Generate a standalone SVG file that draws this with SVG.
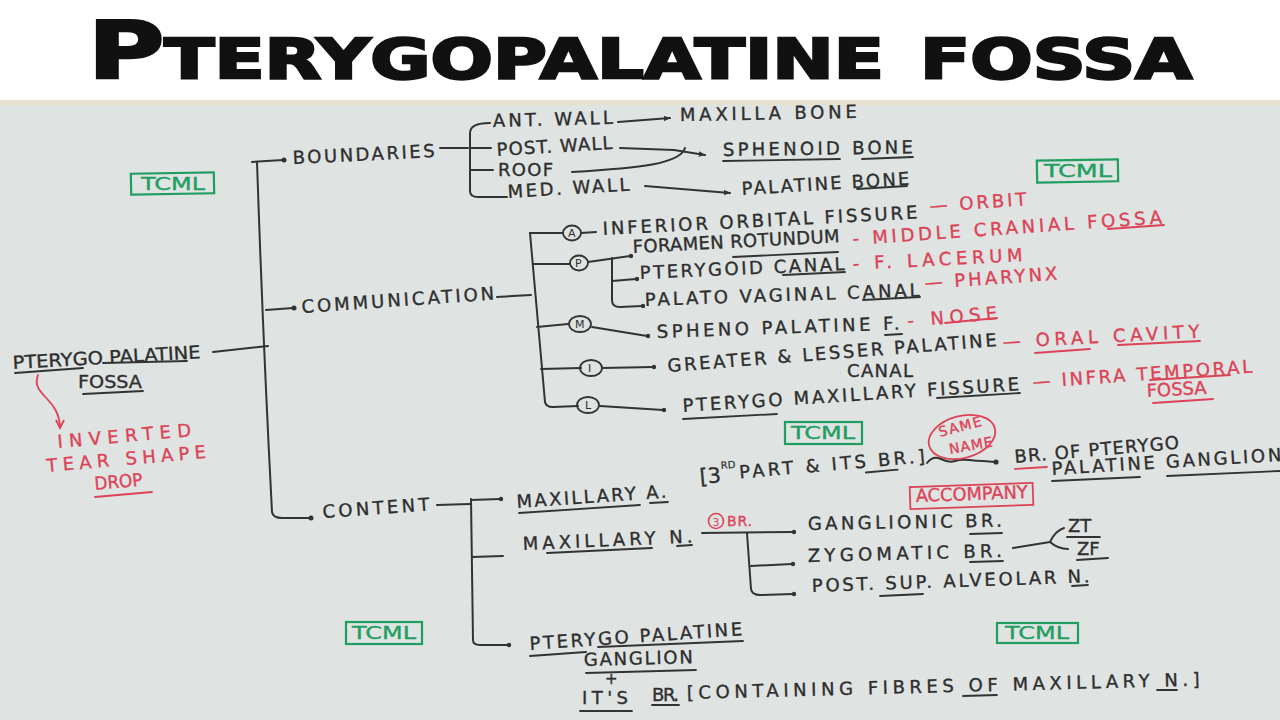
<svg xmlns="http://www.w3.org/2000/svg" width="1280" height="720" viewBox="0 0 1280 720">
<defs>
<style>
.t{font-family:"DejaVu Sans","Liberation Sans",sans-serif;font-size:18px;fill:#2e2e2e;stroke:#2e2e2e;stroke-width:0.35;}
.r{fill:#dc4356;stroke:#dc4356;}
.gt{fill:#1f9e62;stroke:#1f9e62;}
.ln{stroke:#333;stroke-width:2;fill:none;stroke-linecap:round;stroke-linejoin:round;}
.ul{stroke:#333;stroke-width:1.8;fill:none;stroke-linecap:round;}
.rl{stroke:#dc4356;stroke-width:1.8;fill:none;stroke-linecap:round;}
.gb{stroke:#1f9e62;stroke-width:2.2;fill:none;}
.dot{fill:#333;}
.circ{stroke:#333;stroke-width:1.8;fill:none;}
.ct{font-family:"DejaVu Sans",sans-serif;font-size:11px;fill:#2e2e2e;}
.title{font-family:"DejaVu Sans","Liberation Sans",sans-serif;font-weight:900;font-size:78px;font-variant:small-caps;fill:#111;stroke:#111;stroke-width:2.5;}
</style>
<marker id="ah" viewBox="0 0 10 10" refX="9" refY="5" markerWidth="7" markerHeight="7" orient="auto" markerUnits="userSpaceOnUse"><path d="M0,1 L10,5 L0,9 z" fill="#333"/></marker>
<marker id="ahr" viewBox="0 0 10 10" refX="9" refY="5" markerWidth="10" markerHeight="10" orient="auto" markerUnits="userSpaceOnUse"><path d="M1,1 L9,5 L1,9" fill="none" stroke="#dc4356" stroke-width="1.8"/></marker>
</defs>

<rect x="0" y="0" width="1280" height="720" fill="#ffffff"/>
<rect x="0" y="100" width="1280" height="620" fill="#dfe3e2"/>
<rect x="0" y="100" width="1280" height="5" fill="#e6e1cf"/>

<g id="title">
<text class="title" x="88" y="78" textLength="1104" lengthAdjust="spacingAndGlyphs">Pterygopalatine fossa</text>
</g>

<g id="connectors">
<path class="ln" d="M213,352 L268,346"/>
<path class="ln" d="M252,162 L283,160"/>
<path class="ln" d="M257,162 Q263,340 272,512 Q273,518 282,518 L310,518"/>
<path class="ln" d="M266,310 L293,308"/>
<circle class="dot" cx="284" cy="160" r="2.5"/>
<circle class="dot" cx="294" cy="308" r="2.5"/>
<circle class="dot" cx="311" cy="518" r="2.5"/>
<path class="rl" d="M38,375 C30,395 60,398 60,428" marker-end="url(#ahr)"/>
<path class="ln" d="M440,148 L468,148"/>
<path class="ln" d="M490,123 Q470,123 470,133 L470,191 Q470,197 478,197 L507,197"/>
<path class="ln" d="M470,148 L491,148"/>
<path class="ln" d="M470,170 L493,170"/>
<path class="ln" d="M618,122 L670,118" marker-end="url(#ah)"/>
<path class="ln" d="M620,148 L674,150 L705,155" marker-end="url(#ah)"/>
<path class="ln" d="M572,172 C640,168 680,164 685,148"/>
<path class="ln" d="M645,186 L730,193" marker-end="url(#ah)"/>
<path class="ln" d="M497,297 L531,295"/>
<path class="ln" d="M530,233 L545,402 Q546,407 553,407 L578,406"/>
<path class="ln" d="M530,233 L563,233"/>
<path class="ln" d="M533,264 L570,264"/>
<path class="ln" d="M537,327 L568,324"/>
<path class="ln" d="M541,369 L581,368"/>
<path class="ln" d="M581,233 L596,232"/>
<path class="ln" d="M588,262 L630,256"/>
<path class="ln" d="M612,258 L612,300 Q612,307 620,307 L642,306"/>
<path class="ln" d="M612,281 L636,279"/>
<path class="ln" d="M592,327 L647,336"/>
<path class="ln" d="M602,368 L653,367"/>
<path class="ln" d="M600,406 L663,410"/>
<circle class="dot" cx="631" cy="256" r="2.2"/>
<circle class="dot" cx="643" cy="306" r="2.2"/>
<circle class="dot" cx="637" cy="279" r="2.2"/>
<circle class="dot" cx="648" cy="336" r="2.2"/>
<circle class="dot" cx="654" cy="367" r="2.2"/>
<circle class="dot" cx="664" cy="410" r="2.2"/>
<path class="ln" d="M437,505 L470,504"/>
<path class="ln" d="M471,499 L473,640 Q473,645 480,645 L508,645"/>
<path class="ln" d="M471,500 L500,499"/>
<path class="ln" d="M472,557 L503,556"/>
<circle class="dot" cx="509" cy="645" r="2.2"/>
<circle class="dot" cx="501" cy="499" r="2.2"/>
<path class="ln" d="M702,533 L793,532"/>
<path class="ln" d="M747,533 L751,589 Q752,595 760,595 L793,594"/>
<path class="ln" d="M751,566 L792,564"/>
<circle class="dot" cx="794" cy="532" r="2.2"/>
<circle class="dot" cx="793" cy="564" r="2.2"/>
<circle class="dot" cx="794" cy="594" r="2.2"/>
<path class="ln" d="M1013,548 L1050,542 Q1055,531 1064,528"/>
<path class="ln" d="M1050,542 Q1058,549 1068,549"/>
<path class="ln" d="M927,463 q6,-8 14,-4 t14,2 t14,-1 t14,1 l12,1"/>
<circle class="dot" cx="996" cy="462" r="2.6"/>
</g>

<g id="root">
<text class="t" x="13" y="369" textLength="188" lengthAdjust="spacingAndGlyphs" transform="rotate(-3.3 13 369)">PTERYGO PALATINE</text>
<text class="t" x="78" y="388" textLength="64" lengthAdjust="spacingAndGlyphs">FOSSA</text>
<path class="ul" d="M15,373 L83,368 M103,363 L187,361 M83,394 L143,391"/>
</g>

<g id="root-note">
<text class="t r" x="58" y="448" textLength="134" lengthAdjust="spacing" transform="rotate(-5 58 448)">INVERTED</text>
<text class="t r" x="47" y="472" textLength="160" lengthAdjust="spacing" transform="rotate(-5 47 472)">TEAR SHAPE</text>
<text class="t r" x="95" y="490" textLength="48" lengthAdjust="spacingAndGlyphs" transform="rotate(-5 95 490)">DROP</text>
<path class="rl" d="M95,497 L152,492"/>
</g>

<g id="tcml-1"><rect class="gb" x="131" y="173" width="83" height="21" transform="rotate(-1 172 183)"/><text class="t gt" x="141" y="190" textLength="64" lengthAdjust="spacingAndGlyphs">TCML</text></g>
<g id="tcml-2"><rect class="gb" x="1037" y="160" width="81" height="22" transform="rotate(-1 1077 171)"/><text class="t gt" x="1044" y="177" textLength="68" lengthAdjust="spacingAndGlyphs">TCML</text></g>
<g id="tcml-3"><rect class="gb" x="785" y="422" width="77" height="22"/><text class="t gt" x="791" y="439" textLength="64" lengthAdjust="spacingAndGlyphs">TCML</text></g>
<g id="tcml-4"><rect class="gb" x="346" y="622" width="76" height="22"/><text class="t gt" x="352" y="639" textLength="64" lengthAdjust="spacingAndGlyphs">TCML</text></g>
<g id="tcml-5"><rect class="gb" x="997" y="623" width="81" height="20"/><text class="t gt" x="1005" y="639" textLength="64" lengthAdjust="spacingAndGlyphs">TCML</text></g>

<g id="boundaries"><text class="t" x="293" y="164" textLength="142" lengthAdjust="spacing" transform="rotate(-2.8 293 164)">BOUNDARIES</text></g>
<g id="communication"><text class="t" x="302" y="313" textLength="193" lengthAdjust="spacing" transform="rotate(-4 302 313)">COMMUNICATION</text></g>
<g id="content"><text class="t" x="323" y="518" textLength="107" lengthAdjust="spacing" transform="rotate(-4 323 518)">CONTENT</text></g>

<g id="ant-wall"><text class="t" x="493" y="127" textLength="120" lengthAdjust="spacing" transform="rotate(-1.5 493 127)">ANT. WALL</text></g>
<g id="maxilla-bone"><text class="t" x="680" y="121" textLength="177" lengthAdjust="spacing" transform="rotate(-1 680 121)">MAXILLA BONE</text></g>
<g id="post-wall"><text class="t" x="497" y="156" textLength="116" lengthAdjust="spacing" transform="rotate(-3.5 497 156)">POST. WALL</text></g>
<g id="roof"><text class="t" x="498" y="176" textLength="55" lengthAdjust="spacing">ROOF</text></g>
<g id="med-wall"><text class="t" x="508" y="198" textLength="122" lengthAdjust="spacing" transform="rotate(-3.5 508 198)">MED. WALL</text></g>
<g id="sphenoid-bone"><text class="t" x="723" y="156" textLength="190" lengthAdjust="spacing" transform="rotate(-0.8 723 156)">SPHENOID BONE</text><path class="ul" d="M723,161 L840,159 M862,159 L913,157"/></g>
<g id="palatine-bone"><text class="t" x="742" y="195" textLength="168" lengthAdjust="spacing" transform="rotate(-3.5 742 195)">PALATINE BONE</text><path class="ul" d="M857,189 L907,186"/></g>

<g id="comm-a">
<ellipse class="circ" cx="572" cy="233" rx="9" ry="7.5"/><text class="ct" x="568" y="237">A</text>
<text class="t" x="603" y="235" textLength="315" lengthAdjust="spacing" transform="rotate(-3 603 235)">INFERIOR ORBITAL FISSURE</text>
<text class="t r" x="930" y="212" textLength="97" lengthAdjust="spacing" transform="rotate(-4 930 212)">— ORBIT</text>
</g>
<g id="comm-p">
<ellipse class="circ" cx="579" cy="263" rx="9" ry="7.5"/><text class="ct" x="575" y="267">P</text>
<text class="t" x="633" y="253" textLength="207" lengthAdjust="spacing" transform="rotate(-3 633 253)">FORAMEN ROTUNDUM</text>
<path class="ul" d="M733,257 L838,252"/>
<text class="t r" x="853" y="245" textLength="310" lengthAdjust="spacing" transform="rotate(-4 853 245)">- MIDDLE CRANIAL FOSSA</text>
<path class="rl" d="M1108,229 L1164,225"/>
<text class="t" x="640" y="279" textLength="205" lengthAdjust="spacing" transform="rotate(-2.5 640 279)">PTERYGOID CANAL</text>
<path class="ul" d="M783,275 L845,272"/>
<text class="t r" x="853" y="270" textLength="170" lengthAdjust="spacing" transform="rotate(-3 853 270)">- F. LACERUM</text>
<text class="t" x="645" y="306" textLength="275" lengthAdjust="spacing" transform="rotate(-2 645 306)">PALATO VAGINAL CANAL</text>
<path class="ul" d="M863,300 L920,297"/>
<text class="t r" x="925" y="289" textLength="133" lengthAdjust="spacing" transform="rotate(-4 925 289)">— PHARYNX</text>
</g>
<g id="comm-m">
<ellipse class="circ" cx="580" cy="324" rx="11" ry="8"/><text class="ct" x="575" y="328">M</text>
<text class="t" x="657" y="338" textLength="243" lengthAdjust="spacing" transform="rotate(-2 657 338)">SPHENO PALATINE F.</text>
<path class="ul" d="M885,335 L902,334"/>
<text class="t r" x="908" y="327" textLength="90" lengthAdjust="spacing" transform="rotate(-5 908 327)">- NOSE</text>
<path class="rl" d="M945,323 L997,318"/>
</g>
<g id="comm-i">
<ellipse class="circ" cx="591" cy="368" rx="11" ry="8"/><text class="ct" x="588" y="372">I</text>
<text class="t" x="668" y="372" textLength="330" lengthAdjust="spacing" transform="rotate(-4.5 668 372)">GREATER &amp; LESSER PALATINE</text>
<text class="t" x="847" y="377" textLength="66" lengthAdjust="spacing">CANAL</text>
<text class="t r" x="1003" y="348" textLength="197" lengthAdjust="spacing" transform="rotate(-3 1003 348)">— ORAL CAVITY</text>
<path class="rl" d="M1035,353 L1090,349 M1118,345 L1200,341"/>
</g>
<g id="comm-l">
<ellipse class="circ" cx="588" cy="405" rx="11" ry="8"/><text class="ct" x="585" y="409">L</text>
<text class="t" x="683" y="412" textLength="337" lengthAdjust="spacing" transform="rotate(-3.7 683 412)">PTERYGO MAXILLARY FISSURE</text>
<path class="ul" d="M683,419 L777,414 M937,398 L1020,393"/>
<text class="t r" x="1033" y="388" textLength="220" lengthAdjust="spacing" transform="rotate(-4 1033 388)">— INFRA TEMPORAL</text>
<path class="rl" d="M1150,380 L1230,375"/>
<text class="t r" x="1147" y="397" textLength="60" lengthAdjust="spacing" transform="rotate(-3 1147 397)">FOSSA</text>
<path class="rl" d="M1153,403 L1213,399"/>
</g>

<g id="maxillary-artery">
<text class="t" x="517" y="508" textLength="150" lengthAdjust="spacing" transform="rotate(-4 517 508)">MAXILLARY A.</text>
<path class="ul" d="M519,513 L640,505 M650,503 L668,502"/>
<g transform="rotate(-5 700 482)">
<text class="t" x="700" y="484" style="font-size:21px">[3</text>
<text class="t" x="722" y="471" style="font-size:10px;stroke-width:0.2">RD</text>
<text class="t" x="740" y="482" textLength="186" lengthAdjust="spacing">PART &amp; ITS BR.]</text>
<path class="ul" d="M866,487 L898,487"/>
</g>
</g>
<g id="same-name">
<ellipse cx="962" cy="437" rx="34" ry="21" fill="none" stroke="#dc4356" stroke-width="1.8" transform="rotate(-15 962 437)"/>
<text class="t r" x="940" y="437" style="font-size:14px" textLength="44" lengthAdjust="spacing" transform="rotate(-15 940 437)">SAME</text>
<text class="t r" x="950" y="454" style="font-size:14px" textLength="44" lengthAdjust="spacing" transform="rotate(-10 950 454)">NAME</text>
</g>
<g id="accompany">
<rect x="910" y="485" width="123" height="22" fill="none" stroke="#dc4356" stroke-width="1.8" transform="rotate(-2 970 496)"/>
<text class="t r" x="916" y="502" textLength="112" lengthAdjust="spacingAndGlyphs" transform="rotate(-2 916 502)">ACCOMPANY</text>
</g>
<g id="pterygopalatine-branches">
<text class="t" x="1015" y="463" textLength="165" lengthAdjust="spacing" transform="rotate(-5 1015 463)">BR. OF PTERYGO</text>
<path class="rl" d="M1015,469 L1047,467"/>
<text class="t" x="1052" y="475" textLength="230" lengthAdjust="spacing" transform="rotate(-3.5 1052 475)">PALATINE GANGLION</text>
<path class="ul" d="M1052,481 L1140,477 M1167,476 L1280,471"/>
</g>

<g id="maxillary-nerve">
<text class="t" x="523" y="550" textLength="170" lengthAdjust="spacing" transform="rotate(-2.5 523 550)">MAXILLARY N.</text>
<path class="ul" d="M547,553 L652,548 M677,546 L692,545"/>
<circle cx="716" cy="521" r="7.5" fill="none" stroke="#dc4356" stroke-width="1.6"/>
<text x="712.5" y="525.5" style="font-family:'DejaVu Sans',sans-serif;font-size:11px;fill:#dc4356">3</text>
<text class="t r" x="727" y="526" style="font-size:14px" textLength="25" lengthAdjust="spacing">BR.</text>
</g>
<g id="ganglionic-br"><text class="t" x="808" y="530" textLength="194" lengthAdjust="spacing" transform="rotate(-1 808 530)">GANGLIONIC BR.</text><path class="ul" d="M970,534 L1002,533"/></g>
<g id="zygomatic-br"><text class="t" x="808" y="562" textLength="194" lengthAdjust="spacing" transform="rotate(-1.5 808 562)">ZYGOMATIC BR.</text><path class="ul" d="M970,562 L1003,561"/></g>
<g id="zt"><text class="t" x="1068" y="532">ZT</text><path class="ul" d="M1067,537 L1100,537"/></g>
<g id="zf"><text class="t" x="1077" y="555">ZF</text><path class="ul" d="M1077,560 L1108,558"/></g>
<g id="post-sup-alveolar"><text class="t" x="812" y="592" textLength="278" lengthAdjust="spacing" transform="rotate(-2 812 592)">POST. SUP. ALVEOLAR N.</text><path class="ul" d="M880,596 L923,594 M1072,586 L1088,585"/></g>

<g id="pterygopalatine-ganglion">
<text class="t" x="530" y="650" textLength="213" lengthAdjust="spacing" transform="rotate(-4 530 650)">PTERYGO PALATINE</text>
<path class="ul" d="M530,656 L586,652 M598,647 L743,641"/>
<text class="t" x="584" y="666" textLength="109" lengthAdjust="spacing" transform="rotate(-1.5 584 666)">GANGLION</text>
<path class="ul" d="M586,673 L696,670"/>
<text class="t" x="605" y="684" style="font-size:15px">+</text>
<text class="t" x="582" y="704" textLength="46" lengthAdjust="spacing">IT'S</text>
<path class="ul" d="M580,711 L632,711"/>
<text class="t" x="652" y="701" textLength="27" lengthAdjust="spacing">BR.</text>
<path class="ul" d="M652,705 L679,705"/>
<text class="t" x="687" y="699" textLength="513" lengthAdjust="spacing" transform="rotate(-1.5 687 699)">[CONTAINING FIBRES OF MAXILLARY N.]</text>
<path class="ul" d="M963,696 L997,695 M1157,690 L1177,690"/>
</g>
</svg>
